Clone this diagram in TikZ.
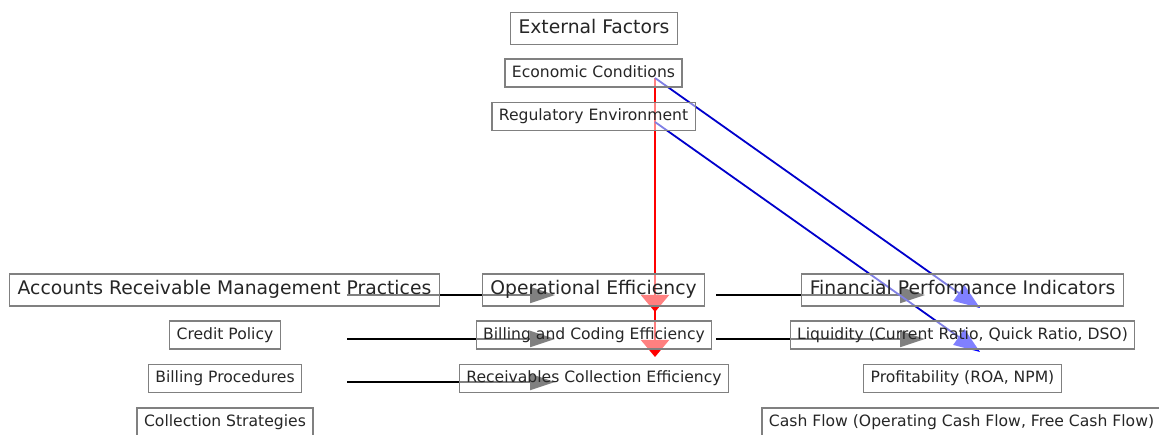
\documentclass[tikz,border=0pt]{standalone}
\usepackage{fontspec}
\setmainfont{DejaVu Sans}
\usetikzlibrary{arrows.meta,calc}
\pgfdeclarelayer{bg}
\pgfsetlayers{bg,main}
\begin{document}
\begin{tikzpicture}[x=1pt,y=-1pt,
 box/.style={draw=gray, line width=1.3pt, fill=white, fill opacity=0.5, text opacity=1, text=black!85, inner sep=0pt},
 big/.style={box, font=\fontsize{18.75}{22}\selectfont, text height=14.2pt, text depth=4.5pt, inner xsep=8pt, inner ysep=6.6pt},
 small/.style={box, font=\fontsize{15.6}{19}\selectfont, text height=11.9pt, text depth=3.7pt, inner xsep=7pt, inner ysep=6.2pt},
 blackarrow/.style={draw=black, line width=1.8pt, -{Triangle[length=25pt,width=16pt,color=black]}},
 redarrow/.style={draw=red, line width=2pt, -{Triangle[length=17pt,width=28pt,color=red]}},
 bluearrow/.style={draw=blue!80!black, line width=1.8pt, -{Triangle[length=26pt,width=19pt,color=blue]}}
]
\useasboundingbox (0,0) rectangle (1159,435);
% nodes
\node[big] (ext) at (594,28.5) {External Factors};
\node[small] (econ) at (593.5,73) {Economic Conditions};
\node[small] (reg) at (593.5,116.5) {Regulatory Environment};
\node[big] (acc) at (224.5,290) {Accounts Receivable Management Practices};
\node[small] (credit) at (225,335) {Credit Policy};
\node[small] (billp) at (225,378.5) {Billing Procedures};
\node[small] (coll) at (225,422) {Collection Strategies};
\node[big] (op) at (593.5,290) {Operational Efficiency};
\node[small] (bc) at (594,335) {Billing and Coding Efficiency};
\node[small] (rce) at (594,378.5) {Receivables Collection Efficiency};
\node[big] (fin) at (962.5,290) {Financial Performance Indicators};
\node[small] (liq) at (962.5,335) {Liquidity (Current Ratio, Quick Ratio, DSO)};
\node[small] (prof) at (962.5,378.5) {Profitability (ROA, NPM)};
\node[small] (cash) at (961.5,422) {Cash Flow (Operating Cash Flow, Free Cash Flow)};
% connectors
\begin{pgfonlayer}{bg}
\draw[blackarrow] ($(acc.center)+(122.5,5)$) -- ($(op.center)+(-38.5,5)$);
\draw[blackarrow] ($(credit.center)+(122,4)$) -- ($(bc.center)+(-39,4)$);
\draw[blackarrow] ($(billp.center)+(122,3.5)$) -- ($(rce.center)+(-39,3.5)$);
\draw[blackarrow] ($(op.center)+(122.5,5)$) -- ($(fin.center)+(-37.5,5)$);
\draw[blackarrow] ($(bc.center)+(122,4)$) -- ($(liq.center)+(-37.5,4)$);
\draw[redarrow] ($(econ.center)+(61.5,5)$) -- ($(op.center)+(61.5,22)$);
\draw[redarrow] ($(reg.center)+(61.5,5.5)$) -- ($(bc.center)+(61,22)$);
\draw[bluearrow] ($(econ.center)+(61.5,5)$) -- ($(fin.center)+(17.5,18)$);
\draw[bluearrow] ($(reg.center)+(61.5,5.5)$) -- ($(liq.center)+(17.5,17)$);
\end{pgfonlayer}
\end{tikzpicture}
\end{document}
